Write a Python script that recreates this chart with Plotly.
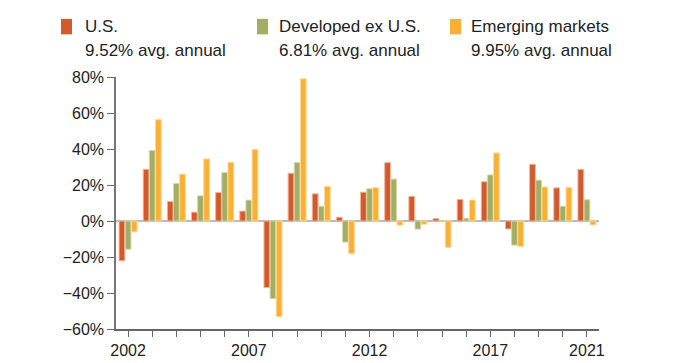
import plotly.graph_objects as go

years = list(range(2002, 2022))
us = [-22.1, 28.7, 10.9, 4.9, 15.8, 5.5, -37.0, 26.5, 15.1, 2.1, 16.0, 32.4, 13.7, 1.4, 12.0, 21.8, -4.4, 31.5, 18.4, 28.7]
dev = [-15.7, 39.2, 20.8, 14.0, 26.9, 11.6, -43.1, 32.5, 8.2, -11.7, 17.9, 23.3, -4.5, -0.4, 1.5, 25.6, -13.4, 22.7, 8.2, 11.8]
em = [-6.0, 56.3, 26.0, 34.5, 32.6, 39.8, -53.2, 79.0, 19.2, -18.2, 18.6, -2.3, -1.8, -14.6, 11.6, 37.8, -14.2, 18.9, 18.7, -2.2]
series_names = ["U.S.", "Developed ex U.S.", "Emerging markets"]
avg_labels = ["9.52% avg. annual", "6.81% avg. annual", "9.95% avg. annual"]
colors = ["#D45A2B", "#A4AE63", "#FBB034"]
edge_colors = ["#EDB49C", "#D3D8B2", "#FDDA9C"]
y_ticks = [-60, -40, -20, 0, 20, 40, 60, 80]
x_label_years = [2002, 2007, 2012, 2017, 2021]

FONT = "Liberation Sans Narrow, Liberation Sans, Arial, sans-serif"

L, R, T, B = 108, 591, 69, 329
PW, PH = R - L, B - T

def px(x):
    return (x - L) / PW

def py(y):
    return (B - y) / PH

fig = go.Figure()
for name, vals, c, ec in zip(series_names, [us, dev, em], colors, edge_colors):
    fig.add_trace(go.Bar(x=years, y=vals, name=name,
                         marker=dict(color=c, line=dict(color=ec, width=1)),
                         showlegend=False))

fig.update_layout(
    width=700, height=363,
    margin=dict(l=L, r=700 - R, t=T, b=363 - B, pad=0),
    paper_bgcolor="white", plot_bgcolor="white",
    barmode="group", bargap=0.24, bargroupgap=0.06,
    font=dict(family=FONT, color="#222222", size=16),
    xaxis=dict(range=[2001.5, 2021.5], tickmode="array", tickvals=years,
               ticktext=[str(y) if y in x_label_years else "" for y in years],
               ticks="outside", ticklen=6, tickcolor="#666666", tickwidth=1,
               showline=True, linecolor="#666666", linewidth=1.5,
               showgrid=False, zeroline=False, tickfont=dict(size=16)),
    yaxis=dict(range=[-60, 80], tickmode="array", tickvals=y_ticks,
               ticktext=[f"{v}%".replace("-", "\u2212") for v in y_ticks],
               ticks="outside", ticklen=7, tickcolor="#666666", tickwidth=1,
               showline=True, linecolor="#777777", linewidth=1.5,
               showgrid=False, zeroline=True, zerolinecolor="#BBBBBB", zerolinewidth=1.5,
               tickfont=dict(size=16)),
)

# custom legend
sq_x = [53, 249, 442]
txt_x = [75, 269, 461]
for i in range(3):
    fig.add_shape(type="rect", xref="paper", yref="paper",
                  x0=px(sq_x[i]), x1=px(sq_x[i] + 11),
                  y0=py(25), y1=py(9),
                  fillcolor=colors[i], line=dict(width=0))
    fig.add_annotation(xref="paper", yref="paper", x=px(txt_x[i]), y=py(17),
                       text=series_names[i], showarrow=False, xanchor="left", yanchor="middle",
                       font=dict(size=17, color="#222222"))
    fig.add_annotation(xref="paper", yref="paper", x=px(txt_x[i]), y=py(42),
                       text=avg_labels[i], showarrow=False, xanchor="left", yanchor="middle",
                       font=dict(size=17, color="#222222"))

fig.write_html("out.html")
